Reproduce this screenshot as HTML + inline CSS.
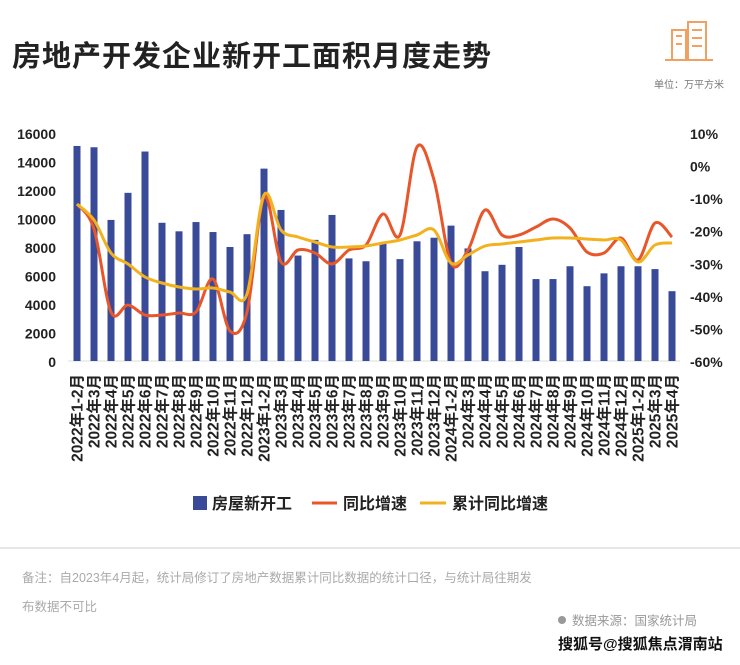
<!DOCTYPE html>
<html><head><meta charset="utf-8"><style>
body{margin:0;width:740px;height:660px;background:#fff;overflow:hidden;font-family:"Liberation Sans","Noto Sans CJK SC",sans-serif;}
svg text{font-family:"Liberation Sans","Noto Sans CJK SC",sans-serif;}
</style></head><body>
<svg id="s" width="740" height="660" xmlns="http://www.w3.org/2000/svg">
<text x="12" y="66" font-size="29" font-weight="bold" fill="#222" letter-spacing="1">房地产开发企业新开工面积月度走势</text>
<g fill="none" stroke="#f0a060" stroke-width="2">
<rect x="672" y="30" width="14" height="30"/><rect x="688" y="22" width="18" height="38"/><path d="M665 60h48M676 36h6M676 44h6M692 30h10M692 38h10M692 46h10"/>
</g>
<text x="724" y="88" font-size="10" fill="#777" text-anchor="end">单位：万平方米</text>
<g id="g"></g>
<line x1="0" y1="548" x2="740" y2="548" stroke="#ccc"/>
<text x="22" y="582" font-size="12.5" fill="#aaa">备注：自2023年4月起，统计局修订了房地产数据累计同比数据的统计口径，与统计局往期发</text>
<text x="22" y="611" font-size="12.5" fill="#aaa">布数据不可比</text>
<circle cx="562" cy="620" r="4" fill="#999"/>
<text x="572" y="625" font-size="12.5" fill="#999">数据来源：国家统计局</text>
<text x="558" y="649" font-size="15" font-weight="bold" fill="#111">搜狐号@搜狐焦点渭南站</text>
</svg>
<script>
var g=document.getElementById('g'),h='';
var bars=[15090,15000,9900,11800,14700,9700,9100,9750,9050,8000,8900,13500,10600,7400,8500,10250,7200,7000,8300,7150,8400,8650,9500,7900,6300,6750,8000,5750,5750,6650,5250,6150,6650,6650,6450,4900];
var red=[204,229,312,305,315,315,313,312,279,331,312,197,262,250,253,264,250,245,214,235,147,180,263,250,210,235,235,227,219,228,252,253,238,260,223,237];
var yel=[204,220,253,264,277,283,287,289,288,292,294,195,230,237,242,247,247,246,243,240,235,230,263,255,246,244,242,240,238,238,239,240,240,262,245,243];
var x0=77,dx=17,y0=361,k=228/16000;
var lt=['16000','14000','12000','10000','8000','6000','4000','2000','0'];
for(var i=0;i<9;i++){h+='<text x="56" y="'+(133+i*28.5+6)+'" font-size="14" font-weight="bold" text-anchor="end" fill="#222">'+lt[i]+'</text>';}
var rt=['10%','0%','-10%','-20%','-30%','-40%','-50%','-60%'];
for(i=0;i<8;i++){h+='<text x="690" y="'+(133+i*32.57+6)+'" font-size="14" font-weight="bold" fill="#222">'+rt[i]+'</text>';}
h+='<line x1="68" y1="361" x2="680" y2="361" stroke="#ddd"/>';
var labs=[];for(var y=2022;y<=2025;y++){var n=y<2025?12:4;labs.push(y+'年1-2月');for(var m=3;m<=n;m++)labs.push(y+'年'+m+'月');}
for(i=0;i<36;i++){var x=x0+i*dx,t=y0-bars[i]*k;
h+='<rect x="'+(x-3.5)+'" y="'+t+'" width="7" height="'+(y0-t)+'" fill="#384a98"/>';
h+='<text transform="translate('+(x+5.5)+',374) rotate(-90)" font-size="15.5" font-weight="bold" text-anchor="end" fill="#222">'+labs[i]+'</text>';}
function path(a){var p=a.map(function(v,i){return [x0+i*dx,v]});var d='M'+p[0][0]+' '+p[0][1];
for(var i=0;i<p.length-1;i++){var a0=p[i-1]||p[i],a1=p[i],a2=p[i+1],a3=p[i+2]||a2;
d+=' C'+(a1[0]+(a2[0]-a0[0])/6)+' '+(a1[1]+(a2[1]-a0[1])/6)+' '+(a2[0]-(a3[0]-a1[0])/6)+' '+(a2[1]-(a3[1]-a1[1])/6)+' '+a2[0]+' '+a2[1];}return d;}
h+='<path d="'+path(red)+'" fill="none" stroke="#e8562a" stroke-width="3"/>';
h+='<path d="'+path(yel)+'" fill="none" stroke="#f2b21f" stroke-width="3"/>';
h+='<rect x="193" y="496" width="14" height="14" fill="#384a98"/><text x="212" y="509" font-size="16" font-weight="bold" fill="#222">房屋新开工</text>';
h+='<line x1="312" y1="503" x2="337" y2="503" stroke="#e8562a" stroke-width="3"/><text x="343" y="509" font-size="16" font-weight="bold" fill="#222">同比增速</text>';
h+='<line x1="420" y1="503" x2="446" y2="503" stroke="#f2b21f" stroke-width="3"/><text x="452" y="509" font-size="16" font-weight="bold" fill="#222">累计同比增速</text>';
g.innerHTML=h;
</script>
</body></html>
